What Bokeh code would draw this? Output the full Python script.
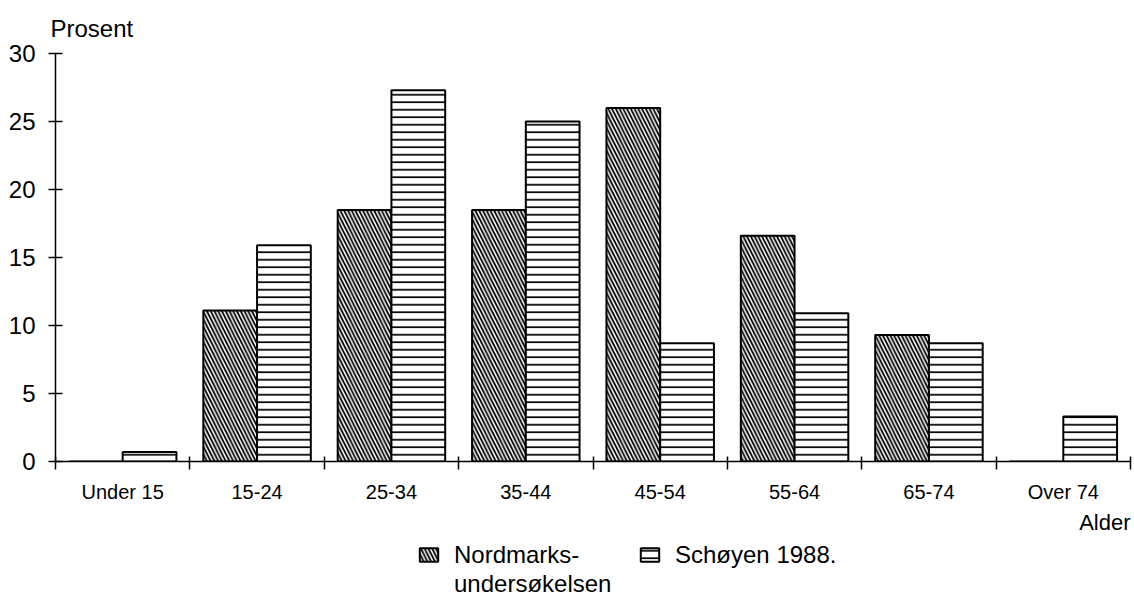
from bokeh.plotting import figure
from bokeh.layouts import column
from bokeh.models import Range1d, FixedTicker, Legend, LegendItem, ColumnDataSource, Title
from bokeh.embed import file_html
from bokeh.resources import INLINE

# ---- data ----
categories = ["Under 15", "15-24", "25-34", "35-44", "45-54", "55-64", "65-74", "Over 74"]
nordmarks = [0, 11.1, 18.5, 18.5, 26.0, 16.6, 9.3, 0]
schoyen = [0.7, 15.9, 27.3, 25.0, 8.7, 10.9, 8.7, 3.3]
y_ticks = [0, 5, 10, 15, 20, 25, 30]
series_names = ["Nordmarks-\nundersøkelsen", "Schøyen 1988."]
y_title = "Prosent"
x_title = "Alder"

FONT = "Liberation Sans"
n = len(categories)
centers = [i + 0.5 for i in range(n)]

N_STYLE = dict(fill_color="white", line_color="black", line_width=2, hatch_pattern="\\",
               hatch_color="black", hatch_scale=7.5, hatch_weight=1.8)
S_STYLE = dict(fill_color="white", line_color="black", line_width=2, hatch_pattern="-",
               hatch_color="black", hatch_scale=7.5, hatch_weight=1.7)

p = figure(width=1134, height=540, output_backend="svg", toolbar_location=None,
           x_range=Range1d(0, n), y_range=Range1d(0, 30),
           min_border_left=55, min_border_right=4, min_border_top=53, min_border_bottom=79)
p.outline_line_color = None
p.xgrid.visible = False
p.ygrid.visible = False
p.background_fill_color = "white"
p.border_fill_color = "white"

src = ColumnDataSource(dict(xn=[c - 0.2 for c in centers], xs=[c + 0.2 for c in centers],
                            n=nordmarks, s=schoyen))
p.vbar(x="xn", top="n", width=0.4, source=src, **N_STYLE)
p.vbar(x="xs", top="s", width=0.4, source=src, **S_STYLE)

# caption above the y axis
p.add_layout(Title(text=y_title, align="left", offset=-5, standoff=24, text_font=FONT,
                   text_font_size="24px", text_font_style="normal", text_color="black"), "above")

# x axis
xa = p.xaxis[0]
xa.ticker = FixedTicker(ticks=centers, minor_ticks=list(range(n + 1)))
xa.major_label_overrides = {c: lab for c, lab in zip(centers, categories)}
xa.major_tick_in = 0
xa.major_tick_out = 0
xa.minor_tick_in = 5
xa.minor_tick_out = 8
xa.minor_tick_line_color = "black"
xa.minor_tick_line_width = 1.5
xa.axis_line_color = "black"
xa.axis_line_width = 1.5
xa.major_label_standoff = 11
xa.major_label_text_font = FONT
xa.major_label_text_font_size = "20px"
xa.major_label_text_color = "black"

# caption under the x axis, right aligned
p.add_layout(Title(text=x_title, align="right", standoff=4, text_font=FONT,
                   text_font_size="22px", text_font_style="normal", text_color="black"), "below")

# y axis
ya = p.yaxis[0]
ya.ticker = FixedTicker(ticks=y_ticks)
ya.major_tick_in = 7
ya.major_tick_out = 7
ya.major_tick_line_color = "black"
ya.major_tick_line_width = 1.5
ya.minor_tick_line_color = None
ya.axis_line_color = "black"
ya.axis_line_width = 1.5
ya.major_label_standoff = 13
ya.major_label_text_font = FONT
ya.major_label_text_font_size = "24px"
ya.major_label_text_color = "black"

# ---- legend strip below the chart (its renderers are hidden, only the legend shows) ----
lp = figure(width=1134, height=58, output_backend="svg", toolbar_location=None,
            x_range=Range1d(100, 101), y_range=Range1d(100, 101),
            x_axis_location=None, y_axis_location=None,
            min_border_left=55, min_border_right=4, min_border_top=0, min_border_bottom=0)
lp.outline_line_color = None
lp.grid.visible = False
lp.background_fill_color = "white"
lp.border_fill_color = "white"
ln = lp.vbar(x="xn", top="n", width=0.4, source=src, **N_STYLE)
ls = lp.vbar(x="xs", top="s", width=0.4, source=src, **S_STYLE)
blank = lp.vbar(x="xn", top="n", width=0.4, source=src, fill_alpha=0, line_alpha=0)
for r in (ln, ls, blank):
    r.visible = False

line1, line2 = series_names[0].split("\n")
legend = Legend(items=[LegendItem(label=line1, renderers=[ln]),
                       LegendItem(label=series_names[1], renderers=[ls]),
                       LegendItem(label=line2, renderers=[blank])],
                location=(362, 0), orientation="horizontal", ncols=2,
                glyph_width=23, glyph_height=17, label_standoff=14, spacing=0,
                label_width=184, label_height=29, inactive_fill_alpha=0,
                padding=0, margin=0, border_line_color=None, background_fill_alpha=0,
                label_text_font=FONT, label_text_font_size="24px", label_text_color="black")
lp.add_layout(legend)

layout = column(p, lp, spacing=0)
open("out.html", "w").write(file_html(layout, INLINE))
